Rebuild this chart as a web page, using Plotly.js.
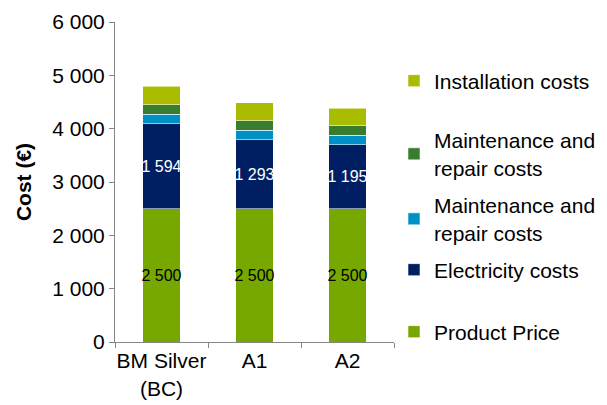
<!DOCTYPE html>
<html>
<head>
<meta charset="utf-8">
<script src="https://cdn.plot.ly/plotly-3.0.1.min.js"></script>
<style>html,body{margin:0;padding:0;background:#fff;}#chart{width:607px;height:405px;}</style>
</head>
<body>
<div id="chart"></div>
<script>
const categories = ["BM Silver<br>(BC)", "A1", "A2"];
const productPrice = [2500, 2500, 2500];
const electricityCosts = [1594, 1293, 1195];
const maintenanceBlue = [180, 182, 180];
const maintenanceGreen = [175, 175, 180];
const installationCosts = [350, 340, 330];
const seriesNames = ["Product Price", "Electricity costs", "Maintenance and<br>repair costs", "Maintenance and<br>repair costs", "Installation costs"];

const colors = ["#77A800", "#001F63", "#0090C8", "#377D2D", "#AABC00"];
const font = "Liberation Sans, Arial, sans-serif";
const edge = {color: "rgba(255,255,255,0.55)", width: 1};

function bar(y, i, legendId, withText, textColor) {
  const t = {
    type: "bar", x: categories, y: y, name: seriesNames[i],
    marker: {color: colors[i], line: edge},
    width: 0.4, legend: legendId, hoverinfo: "skip"
  };
  if (withText) {
    t.texttemplate = "%{y:,d}";
    t.textposition = "inside";
    t.insidetextanchor = "middle";
    t.textangle = 0;
    t.constraintext = "none";
    t.textfont = {family: font, size: 16, color: textColor};
  }
  return t;
}

const data = [
  bar(productPrice, 0, "legend5", true, "#000000"),
  bar(electricityCosts, 1, "legend4", true, "#FFFFFF"),
  bar(maintenanceBlue, 2, "legend3", false),
  bar(maintenanceGreen, 3, "legend2", false),
  bar(installationCosts, 4, "legend", false)
];

function leg(ypx) {
  return {x: 394/607, y: 1 - ypx/405, xref: "container", yref: "container",
          xanchor: "left", yanchor: "middle", bgcolor: "rgba(0,0,0,0)",
          font: {family: font, size: 21, color: "#000"}, borderwidth: 0};
}

const layout = {
  width: 607, height: 405,
  margin: {l: 115, r: 202, t: 22, b: 63},
  paper_bgcolor: "#fff", plot_bgcolor: "#fff",
  barmode: "stack",
  separators: ", ",
  font: {family: font, size: 21, color: "#000"},
  xaxis: {
    showgrid: false, showline: true, linecolor: "#868686", linewidth: 1,
    ticks: "outside", tickson: "boundaries", ticklen: 5, tickcolor: "#868686",
    tickangle: 0,
    tickfont: {family: font, size: 21, color: "#000"}, fixedrange: true
  },
  yaxis: {
    range: [0, 6000], dtick: 1000, tickformat: ",d",
    showgrid: false, zeroline: false, showline: true, linecolor: "#868686", linewidth: 1,
    ticks: "outside", ticklen: 5, tickcolor: "#868686",
    tickfont: {family: font, size: 21, color: "#000"},
    title: {text: "<b>Cost (€)</b>", font: {family: font, size: 21, color: "#000"}, standoff: 14}
  },
  showlegend: true,
  legend: leg(81),
  legend2: leg(154),
  legend3: leg(219),
  legend4: leg(270),
  legend5: leg(332)
};

Plotly.newPlot("chart", data, layout, {displayModeBar: false, staticPlot: true});
</script>
</body>
</html>
